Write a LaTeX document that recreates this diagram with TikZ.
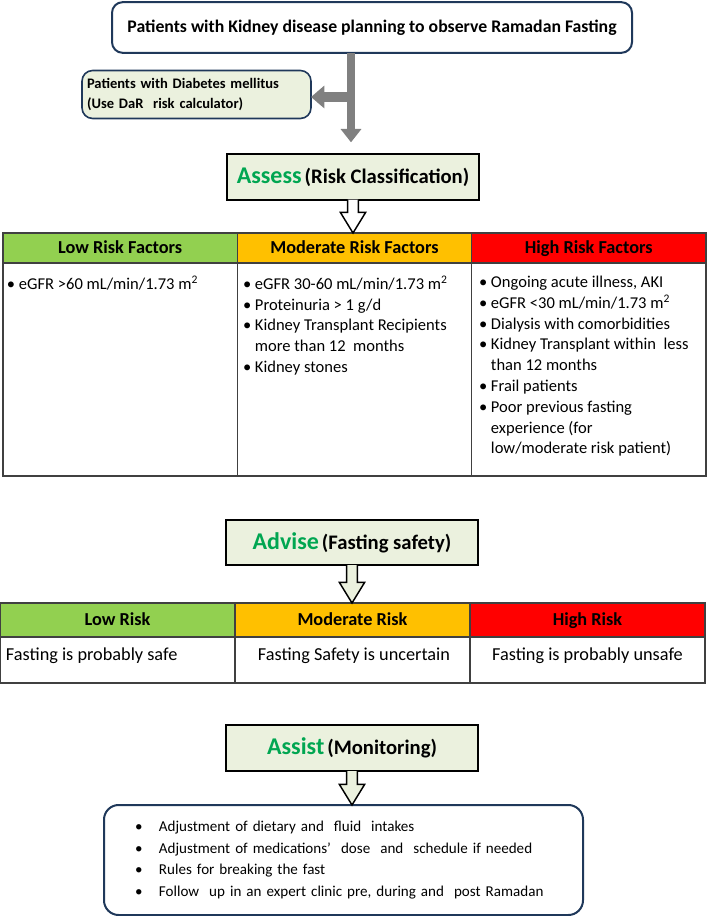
\documentclass[tikz,border=0pt]{standalone}
\usepackage{fontspec}
\setmainfont{Carlito}
\usetikzlibrary{arrows.meta,calc}
\definecolor{navy}{RGB}{31,56,90}
\definecolor{sage}{RGB}{235,241,222}
\definecolor{lowgreen}{RGB}{146,208,80}
\definecolor{modorange}{RGB}{255,192,0}
\definecolor{highred}{RGB}{255,0,0}
\definecolor{stepgreen}{RGB}{0,166,81}
\definecolor{arrowgray}{RGB}{128,128,128}

% hollow block arrow from the south of #1 to the north of #2, filled with #3
\newcommand{\blockarrow}[3]{%
  \draw[black, line width=1.1pt, fill=#3] let \p1=(#1.south), \p2=(#2.north) in
    (\x1-4pt,\y1) -- (\x1-4pt,\y2+15.5pt) -- (\x1-9.5pt,\y2+15.5pt) -- (\x1,\y2)
    -- (\x1+9.5pt,\y2+15.5pt) -- (\x1+4pt,\y2+15.5pt) -- (\x1+4pt,\y1);}

\begin{document}
\begin{tikzpicture}[
  x=0.75pt, y=-0.75pt,
  every node/.style={inner sep=0pt, outer sep=0pt},
  roundbox/.style={draw=navy, line width=1.5pt, rounded corners=8pt, fill=white},
  stepbox/.style={draw=black, line width=1.5pt, fill=sage, minimum width=189pt, font=\bfseries},
  head/.style={draw=black!75, line width=0.9pt, fill=#1, anchor=north west, text height=10pt, text depth=2pt,
    font=\fontsize{13.7}{16}\selectfont\bfseries},
  cell/.style={draw=black!75, line width=0.9pt, minimum height=#1, anchor=north west},
  list/.style={anchor=north west, align=left, font=\fontsize{12.4}{15.6}\selectfont},
  bigarrow/.style={draw=arrowgray, line width=6.5pt, -{Triangle[width=15pt,length=10pt]}}
]
\useasboundingbox (0,0) rectangle (708,916);

% top
\node[roundbox, minimum width=390pt, minimum height=38pt, font=\fontsize{13.3}{15}\selectfont\bfseries]
  (kidney) at (372,27.5) {Patients with Kidney disease planning to observe Ramadan Fasting};
\node[roundbox, fill=sage, line width=1.2pt, minimum width=171.75pt, minimum height=36pt,
  text width=164.25pt, align=left, font=\fontsize{10.9}{14.3}\selectfont\bfseries]
  (diabetes) at (196.5,94.5) {Patients with Diabetes mellitus\\(Use DaR\ \ risk calculator)};

% assess
\node[stepbox, minimum height=34pt] (assess) at (353,177)
  {\textcolor{stepgreen}{\fontsize{18}{21}\selectfont Assess} \fontsize{15.5}{18}\selectfont(Risk Classification)};

\coordinate (split) at (351,97);
\draw[bigarrow] (kidney.south -| split) -- ($(assess.north -| split)+(0,-12)$);
\draw[bigarrow, line width=8pt, -{Triangle[width=16.5pt,length=10pt]}] (split) -- (split -| diabetes.east);

\node[head=lowgreen, minimum width=175.75pt, minimum height=22.5pt] (lowhead) at (3,233) {Low Risk Factors};
\node[head=modorange, minimum width=175.75pt, minimum height=22.5pt] (modhead) at (237.3,233) {Moderate Risk Factors};
\node[head=highred, minimum width=175.75pt, minimum height=22.5pt] (highhead) at (471.6,233) {High Risk Factors};
\node[cell=159.75pt, minimum width=175.75pt] (lowcell) at (3,263) {};
\node[cell=159.75pt, minimum width=175.75pt] (modcell) at (237.3,263) {};
\node[cell=159.75pt, minimum width=175.75pt] (highcell) at (471.6,263) {};
\node[list] (lowtxt) at (7,276) {\textbullet\ eGFR >60 mL/min/1.73 m\textsuperscript{2}};
\node[list] (modtxt) at (243,276) {\textbullet\ eGFR 30-60 mL/min/1.73 m\textsuperscript{2}\\
  \textbullet\ Proteinuria > 1 g/d\\
  \textbullet\ Kidney Transplant Recipients\\
  \phantom{\textbullet\ }more than 12\ \ months\\
  \textbullet\ Kidney stones};
\node[list] (hightxt) at (479,276) {\textbullet\ Ongoing acute illness, AKI\\
  \textbullet\ eGFR <30 mL/min/1.73 m\textsuperscript{2}\\
  \textbullet\ Dialysis with comorbidities\\
  \textbullet\ Kidney Transplant within\ \ less\\
  \phantom{\textbullet\ }than 12 months\\
  \textbullet\ Frail patients\\
  \textbullet\ Poor previous fasting\\
  \phantom{\textbullet\ }experience (for\\
  \phantom{\textbullet\ }low/moderate risk patient)};
\blockarrow{assess}{modhead}{white}

% advise
\node[stepbox, minimum height=33.75pt] (advise) at (352,542.5)
  {\textcolor{stepgreen}{\fontsize{18}{21}\selectfont Advise} \fontsize{15.5}{18}\selectfont(Fasting safety)};

\node[head=lowgreen, minimum width=176.25pt, minimum height=25.5pt] (lowrisk) at (0,603) {Low Risk};
\node[head=modorange, minimum width=176.25pt, minimum height=25.5pt] (modrisk) at (235,603) {Moderate Risk};
\node[head=highred, minimum width=176.25pt, minimum height=25.5pt] (highrisk) at (470,603) {High Risk};
\node[cell=34.5pt, minimum width=176.25pt] (lowsafe) at (0,637) {};
\node[cell=34.5pt, minimum width=176.25pt] (modsafe) at (235,637) {};
\node[cell=34.5pt, minimum width=176.25pt] (highsafe) at (470,637) {};
\begin{scope}[every node/.append style={anchor=base, font=\fontsize{13.7}{16}\selectfont}]
  \node[anchor=base west] (lowtxt2) at (6,660) {Fasting is probably safe};
  \node (modtxt2) at (354,660) {Fasting Safety is uncertain};
  \node (hightxt2) at (587.5,660) {Fasting is probably unsafe};
\end{scope}
\blockarrow{advise}{modrisk}{sage}

% assist
\node[stepbox, minimum height=34.5pt] (assist) at (352,748)
  {\textcolor{stepgreen}{\fontsize{18}{21}\selectfont Assist} \fontsize{15.5}{18}\selectfont(Monitoring)};
\node[roundbox, rounded corners=11pt, minimum width=359.25pt, minimum height=82.5pt, text width=312.75pt,
  inner xsep=23.25pt, align=left, font=\fontsize{11.3}{16.3}\selectfont] (monitor) at (343.5,860)
  {\makebox[18pt][l]{\textbullet}Adjustment of dietary and\ \ fluid\ \ intakes\\
   \makebox[18pt][l]{\textbullet}Adjustment of medications'\ \ dose\ \ and\ \ schedule if needed\\
   \makebox[18pt][l]{\textbullet}Rules for breaking the fast\\
   \makebox[18pt][l]{\textbullet}Follow\ \ up in an expert clinic pre, during and\ \ post Ramadan};
\blockarrow{assist}{monitor}{sage}
\end{tikzpicture}
\end{document}
